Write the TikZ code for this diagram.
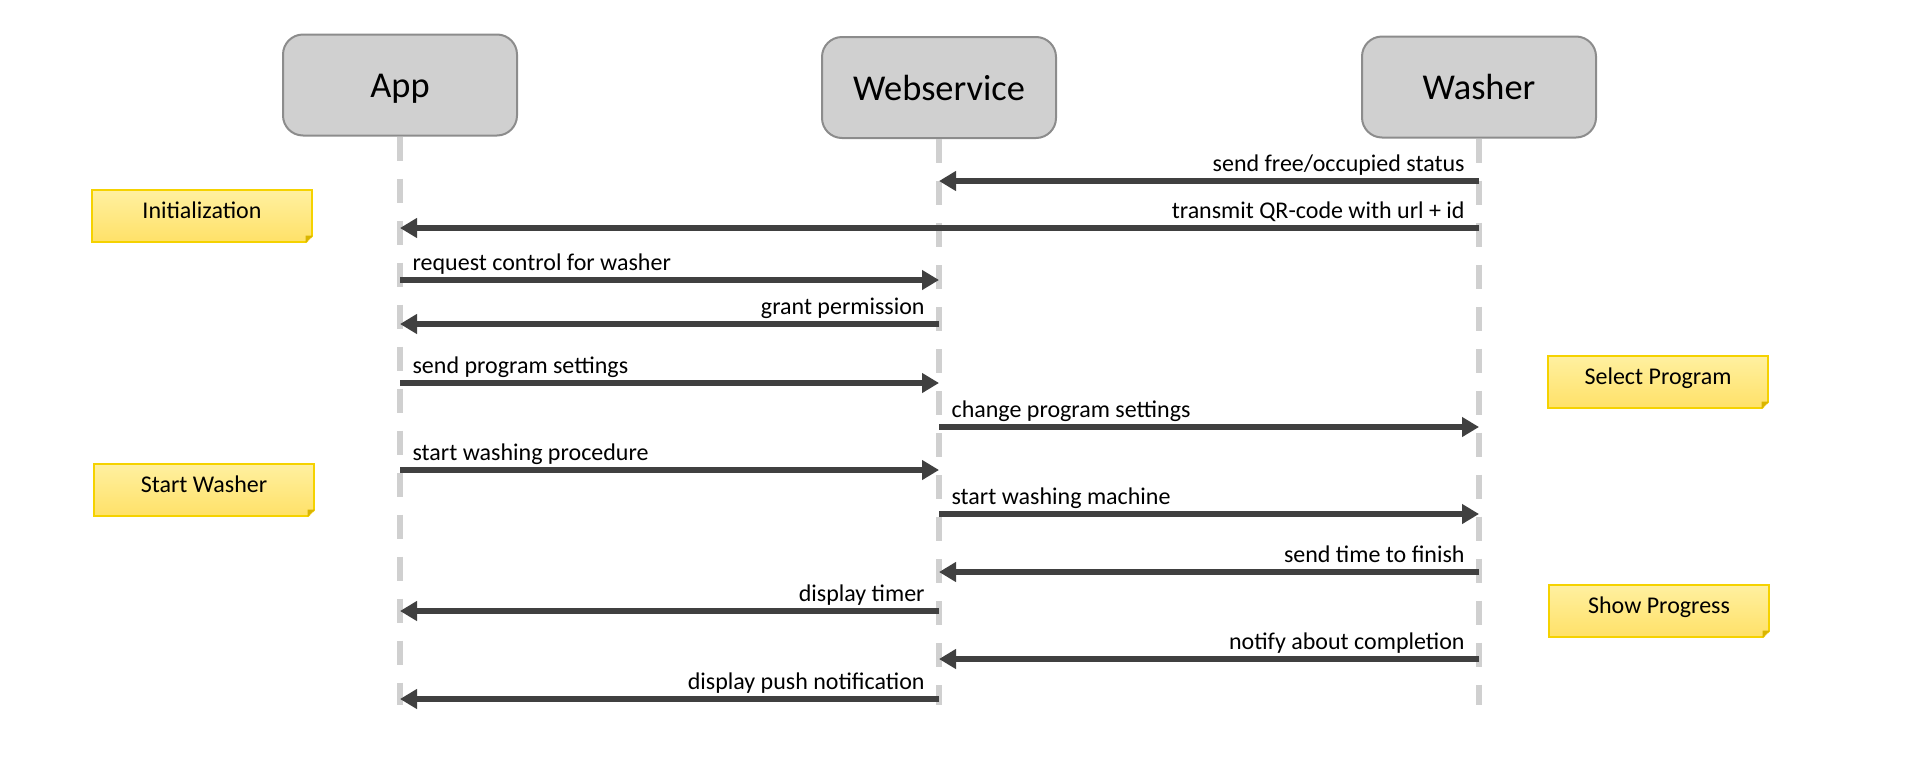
\documentclass[tikz,border=0pt]{standalone}
\usepackage{fontspec}
\setmainfont{Carlito}
\usetikzlibrary{arrows.meta,calc,positioning}
\definecolor{actorfill}{HTML}{D0D0D0}
\definecolor{actordraw}{HTML}{8C8C8C}
\definecolor{lifegray}{HTML}{D0D0D0}
\definecolor{msggray}{HTML}{404040}
\definecolor{notetop}{HTML}{FFF0A0}
\definecolor{notebot}{HTML}{FFE168}
\definecolor{notedraw}{HTML}{F5D200}
\definecolor{notefold}{HTML}{D9B500}
\tikzset{
  actor/.style={draw=actordraw, line width=1pt, fill=actorfill, rounded corners=10pt,
    minimum width=117pt, minimum height=50.5pt, text height=12.5pt, text depth=0pt,
    font=\fontsize{18.2}{21}\selectfont},
  lifeline/.style={draw=lifegray, line width=3pt, dash pattern=on 12pt off 9pt},
  msg/.style={draw=msggray, line width=3pt, -{Triangle[length=8.5pt,width=9.5pt]}},
  lbll/.style={pos=0, anchor=base east, xshift=-5.7pt, yshift=4.8pt, inner sep=0pt, font=\fontsize{12}{14}\selectfont},
  lblr/.style={pos=0, anchor=base west, xshift=4.8pt, yshift=4.8pt, inner sep=0pt, font=\fontsize{12}{14}\selectfont},
  note/.style={draw=notedraw, line width=0.7pt, top color=notetop, bottom color=notebot,
    minimum width=110pt, minimum height=26pt, text height=6pt, text depth=3.8pt,
    font=\fontsize{12}{14}\selectfont}
}
% folded corner of a note
\newcommand{\dogear}[1]{%
  \fill[white] ([xshift=-3.5pt,yshift=-0.6pt]#1.south east) -- ([xshift=0.6pt,yshift=-0.6pt]#1.south east) -- ([xshift=0.6pt,yshift=3.5pt]#1.south east) -- cycle;
  \fill[notefold] ([xshift=-3.5pt]#1.south east) -- ([yshift=3.5pt]#1.south east) -- ([xshift=-3.5pt,yshift=3.5pt]#1.south east) -- cycle;}
\begin{document}
\begin{tikzpicture}[x=0.5pt,y=-0.5pt]
\useasboundingbox (0,0) rectangle (1920,766);
% actors
\node[actor] (app) at (400,85) {App};
\node[actor] (web) at (939,87.5) {Webservice};
\node[actor] (washer) at (1479,87) {Washer};
% lifelines
\draw[lifeline] (app.south) -- (app |- 0,705);
\draw[lifeline] (web.south) -- (web |- 0,705);
\draw[lifeline] (washer.south) -- (washer |- 0,705);
% notes
\node[note] (init) at (202,216) {Initialization};
\node[note] (startw) at (204,490) {Start Washer};
\node[note] (selp) at (1658,382) {Select Program};
\node[note] (showp) at (1659,611) {Show Progress};
\dogear{init} \dogear{startw} \dogear{selp} \dogear{showp}
% messages
\draw[msg] (washer |- 0,181) -- node[lbll] {send free/occupied status} (web |- 0,181);
\draw[msg] (washer |- 0,228) -- node[lbll] {transmit QR-code with url + id} (app |- 0,228);
\draw[msg] (app |- 0,280) -- node[lblr] {request control for washer} (web |- 0,280);
\draw[msg] (web |- 0,324) -- node[lbll] {grant permission} (app |- 0,324);
\draw[msg] (app |- 0,383) -- node[lblr] {send program settings} (web |- 0,383);
\draw[msg] (web |- 0,427) -- node[lblr] {change program settings} (washer |- 0,427);
\draw[msg] (app |- 0,470) -- node[lblr] {start washing procedure} (web |- 0,470);
\draw[msg] (web |- 0,514) -- node[lblr] {start washing machine} (washer |- 0,514);
\draw[msg] (washer |- 0,572) -- node[lbll] {send time to finish} (web |- 0,572);
\draw[msg] (web |- 0,611) -- node[lbll] {display timer} (app |- 0,611);
\draw[msg] (washer |- 0,659) -- node[lbll] {notify about completion} (web |- 0,659);
\draw[msg] (web |- 0,699) -- node[lbll] {display push notification} (app |- 0,699);
\end{tikzpicture}
\end{document}
